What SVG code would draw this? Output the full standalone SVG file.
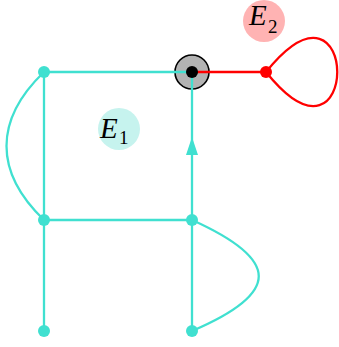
<svg xmlns="http://www.w3.org/2000/svg" width="339" height="347" viewBox="0 0 339 347">
<style>
.c{stroke:#40e0d0;stroke-width:2.3;fill:none}
.r{stroke:#ff0000;stroke-width:2.3;fill:none}
.dc{fill:#40e0d0}
.lbl{font-family:"Liberation Serif","DejaVu Serif",serif;font-style:italic;font-size:29px;fill:#000}
.sub{font-family:"Liberation Serif","DejaVu Serif",serif;font-size:19px;fill:#000}
</style>
<rect width="339" height="347" fill="#fff"/>
<g id="label-E1"><circle cx="119" cy="129" r="21" fill="#c6f3ee"/><text class="lbl" x="100" y="138">E</text><text class="sub" x="119" y="144">1</text></g>
<g id="label-E2"><circle cx="264" cy="21" r="21" fill="#ffb3b3"/><text class="lbl" x="249" y="25">E</text><text class="sub" x="268" y="33">2</text></g>
<g id="hub-bg"><circle cx="192" cy="72" r="17" fill="#b3b3b3" stroke="#000" stroke-width="1.6"/></g>
<g id="edges">
<path class="c" d="M44,72 H192"/>
<path class="c" d="M44,72 V331"/>
<path class="c" d="M44,220 H192"/>
<path class="c" d="M192,72 V331"/>
<path class="c" d="M44,72 C-6,120 -6,172 44,220"/>
<path class="c" d="M192,220 C281,260 281,293 192,331"/>
<path class="dc" d="M192,137 L186,155 L198,155 Z"/>
<path class="r" d="M192,72 H266"/>
<path class="r" d="M266,72 C361,-46 361,190 266,72"/>
</g>
<g id="n1"><circle class="dc" cx="44" cy="72" r="6"/></g>
<g id="n2"><circle cx="192" cy="72" r="6" fill="#000"/></g>
<g id="n3"><circle cx="266" cy="72" r="6" fill="#ff0000"/></g>
<g id="n4"><circle class="dc" cx="44" cy="220" r="6"/></g>
<g id="n5"><circle class="dc" cx="192" cy="220" r="6"/></g>
<g id="n6"><circle class="dc" cx="44" cy="331" r="6"/></g>
<g id="n7"><circle class="dc" cx="192" cy="331" r="6"/></g>
</svg>
